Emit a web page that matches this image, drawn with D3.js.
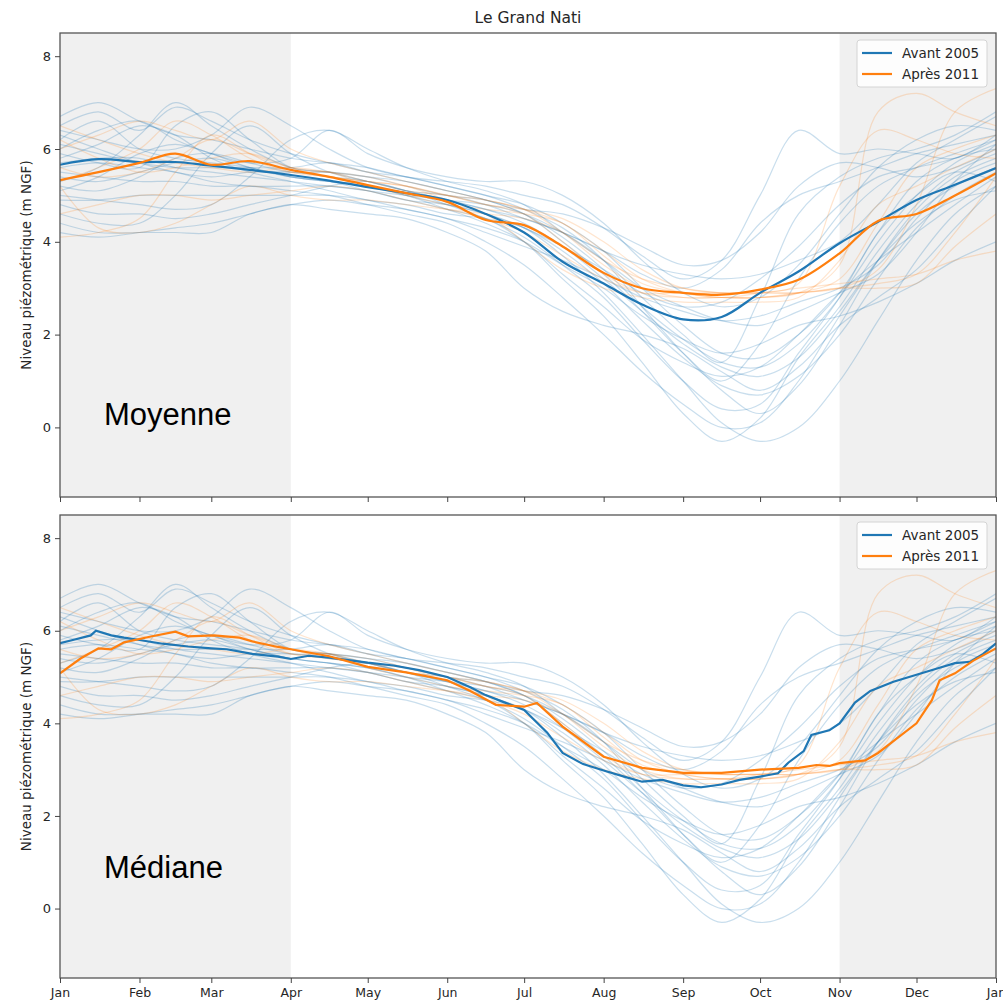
<!DOCTYPE html>
<html>
<head>
<meta charset="utf-8">
<script src="https://cdn.jsdelivr.net/npm/d3@7"></script>
<style>
  body { margin: 0; background: #fff; }
  text { font-family: "DejaVu Sans", sans-serif; fill: #262626; }
</style>
</head>
<body>
<div id="chart"></div>
<script>
// day of year of each sample (1st and mid of each month)
var sampleDays = [0,15,31,45,59,74,90,105,120,135,151,166,181,196,212,227,243,258,273,288,304,319,334,349,365];

var monthDays = [0,31,59,90,120,151,181,212,243,273,304,334,365];
var monthLabels = ['Jan','Feb','Mar','Apr','May','Jun','Jul','Aug','Sep','Oct','Nov','Dec','Jan'];
var yTicks = [0,2,4,6,8];

// individual years, before 2005
var yearsBefore = [
  [6.2,6.6,6.0,5.8,5.7,5.6,5.4,5.3,5.1,4.9,4.7,4.5,4.0,3.2,2.4,1.4,0.3,-0.3,0.2,1.5,2.6,3.8,4.8,5.5,5.9],
  [5.9,5.7,5.6,6.5,6.8,6.2,5.6,5.5,5.4,5.3,5.1,4.9,4.6,4.0,3.3,2.5,1.6,1.0,1.8,3.2,4.4,5.2,5.6,5.9,6.2],
  [4.4,4.2,4.2,4.2,4.2,4.6,4.8,4.9,4.8,4.7,4.5,4.3,4.0,3.5,3.0,2.4,1.9,1.6,1.8,2.2,2.4,2.7,3.1,3.6,4.0],
  [6.7,7.0,6.6,6.3,6.2,6.0,5.8,5.7,5.6,5.4,5.3,5.2,5.0,4.8,4.3,3.7,3.2,3.6,5.0,6.4,5.9,6.0,5.9,5.8,6.3],
  [5.0,4.9,4.8,4.7,4.8,5.4,6.2,6.4,6.0,5.6,5.3,5.1,4.8,4.2,3.6,3.0,2.6,2.3,2.2,2.5,2.9,3.3,4.2,5.3,6.1],
  [4.6,4.4,4.4,5.0,5.9,6.5,5.9,5.5,5.3,5.1,4.8,4.5,4.1,3.5,2.8,1.9,1.0,0.4,0.5,1.6,2.8,4.2,5.0,5.5,5.3],
  [5.3,5.6,6.3,7.0,6.5,6.0,5.6,5.5,5.3,5.1,5.0,4.8,4.5,4.2,3.8,3.5,3.3,3.2,3.3,3.6,4.0,4.8,5.7,6.2,6.7],
  [5.5,5.4,5.3,5.3,5.2,5.2,5.1,5.0,4.8,4.6,4.4,4.0,3.5,2.8,2.0,1.2,0.5,0.0,0.1,1.0,2.4,3.6,4.6,5.2,5.6],
  [6.0,6.4,6.6,6.2,5.9,5.7,5.8,6.4,5.9,5.6,5.4,5.3,5.3,5.0,4.4,3.6,2.9,2.6,2.8,3.5,4.6,5.6,6.2,6.5,6.4],
  [4.9,4.9,5.0,5.0,5.0,5.0,5.0,5.0,4.9,4.7,4.5,4.2,3.9,3.6,3.2,2.8,2.5,2.3,2.4,2.7,3.0,3.5,4.5,5.3,5.7],
  [6.4,6.2,6.0,6.0,6.3,6.9,6.5,6.0,5.6,5.4,5.2,5.0,4.8,4.4,3.8,3.0,2.2,1.6,1.5,2.0,2.9,4.2,5.3,5.8,6.0],
  [5.7,5.8,5.8,5.6,5.5,5.4,5.3,5.2,5.1,5.0,4.9,4.8,4.6,4.2,3.6,2.8,2.0,1.4,2.8,4.6,5.4,5.8,6.0,6.3,6.8],
  [4.2,4.1,4.2,4.3,4.4,4.6,4.8,4.7,4.6,4.5,4.2,3.8,3.0,2.5,2.2,2.0,1.7,1.2,0.8,1.3,2.2,2.8,3.4,4.3,5.2],
  [6.5,6.8,6.4,6.9,6.6,6.2,5.9,5.7,5.5,5.4,5.2,5.0,4.7,4.3,3.6,2.6,1.6,0.8,0.3,0.9,2.2,3.6,4.7,5.4,5.8],
  [5.2,5.1,5.4,5.8,5.9,5.7,5.5,5.5,5.4,5.2,5.0,4.9,4.7,4.6,4.3,3.9,3.5,3.6,4.2,5.2,5.7,5.6,5.4,5.6,6.0],
  [5.8,6.1,6.5,6.3,5.8,5.5,5.3,5.1,4.9,4.8,4.6,4.5,4.3,3.8,3.1,2.3,1.5,0.9,0.7,1.1,2.0,3.2,4.3,5.0,5.5],
  [4.8,4.6,4.6,4.5,4.6,4.8,5.0,5.2,5.3,5.1,4.9,4.7,4.4,3.9,3.2,2.5,1.8,1.3,1.1,1.5,2.5,3.6,4.4,4.9,5.1],
  [6.1,5.9,5.7,5.6,5.6,5.6,5.6,5.7,5.5,5.3,5.1,4.9,4.6,4.1,3.4,2.6,1.9,1.4,1.3,1.8,2.8,4.0,5.0,5.7,6.1],
  [5.6,5.7,5.6,5.5,5.3,5.2,5.2,5.2,5.1,4.9,4.8,4.6,4.3,3.7,2.9,2.0,1.0,0.1,-0.3,0.0,1.0,2.3,3.6,4.6,5.2],
  [6.3,6.0,5.7,5.5,5.4,5.5,5.5,5.4,5.3,5.1,4.9,4.7,4.5,4.2,3.8,3.3,3.0,3.4,4.4,5.0,5.3,5.6,5.9,6.1,6.3],
  [5.4,5.3,5.5,5.7,5.8,5.6,5.4,5.3,5.2,5.0,4.7,4.4,4.0,3.3,2.6,1.9,1.4,1.1,1.3,2.0,2.9,3.6,4.2,4.8,5.4],
  [5.1,5.4,5.9,6.1,5.9,5.6,5.4,5.3,5.2,5.0,4.8,4.6,4.3,3.9,3.4,2.9,2.6,2.7,3.2,3.9,4.8,5.4,5.6,5.8,6.2]
];

// individual years, after 2011
var yearsAfter = [
  [5.2,4.3,4.2,4.4,4.8,5.2,5.0,4.9,4.9,4.8,4.7,4.6,4.5,4.2,3.6,3.2,3.0,2.9,2.9,2.9,3.0,3.0,3.1,3.9,4.6],
  [6.0,6.3,6.6,6.4,6.2,6.6,6.0,5.7,5.5,5.3,5.1,4.9,4.7,4.2,3.5,3.0,2.8,2.8,2.8,2.9,3.5,6.8,7.2,6.8,6.5],
  [4.1,4.2,4.5,5.5,6.3,5.9,5.5,5.4,5.3,5.2,5.0,4.8,4.7,4.5,4.0,3.4,3.0,2.9,2.9,2.9,3.0,3.1,3.3,4.2,5.4],
  [6.5,6.2,5.9,5.7,5.6,5.5,5.6,5.5,5.3,5.1,5.0,4.8,4.6,4.0,3.3,2.9,2.8,2.8,2.8,2.9,3.0,3.4,4.8,6.8,7.3],
  [5.6,5.4,5.5,5.8,6.2,5.9,5.6,5.5,5.4,5.2,4.9,4.6,4.0,3.4,3.0,2.8,2.7,2.7,2.7,2.8,3.6,4.8,5.2,5.6,6.0],
  [5.3,5.6,6.0,6.6,6.3,5.8,5.5,5.5,5.2,5.0,4.8,4.7,4.6,4.4,3.7,3.1,2.9,2.8,2.9,3.1,5.2,6.4,6.2,5.9,5.8],
  [4.6,4.8,5.0,5.0,4.9,5.0,5.1,5.2,5.1,4.9,4.7,4.5,4.2,3.7,3.2,2.9,2.9,2.9,2.9,3.0,3.1,3.2,3.3,3.6,3.8],
  [6.2,5.8,5.5,5.6,5.8,5.9,5.6,5.4,5.3,5.2,5.0,4.9,4.7,4.4,3.8,3.2,2.9,2.8,2.8,2.9,3.2,4.4,5.6,6.0,6.3]
];

// mean (top panel), at sampleDays
var meanBefore = [5.66,5.78,5.72,5.72,5.64,5.55,5.44,5.32,5.18,5.05,4.9,4.6,4.2,3.57,3.1,2.65,2.33,2.38,2.9,3.36,3.97,4.43,4.9,5.23,5.59];
var meanAfter  = [5.33,5.5,5.7,5.9,5.66,5.74,5.55,5.4,5.22,5.05,4.86,4.47,4.36,3.9,3.33,3.0,2.9,2.86,2.97,3.18,3.75,4.45,4.6,5.0,5.48];

// median (bottom panel)
var medBeforeDays = [0,5,12,14,20,25,31,40,50,59,65,75,85,90,97,105,120,130,140,151,160,166,172,181,190,196,204,212,220,227,235,243,250,258,265,273,280,284,290,293,300,304,310,316,325,334,343,349,355,360,365];
var medBefore     = [5.73,5.8,5.9,6.0,5.9,5.85,5.8,5.72,5.66,5.62,5.6,5.5,5.44,5.39,5.46,5.42,5.31,5.25,5.15,5.0,4.78,4.61,4.48,4.29,3.8,3.36,3.12,2.98,2.85,2.74,2.78,2.66,2.62,2.68,2.78,2.85,2.92,3.15,3.4,3.75,3.85,4.0,4.45,4.7,4.9,5.05,5.2,5.3,5.33,5.5,5.73];
var medAfterDays  = [0,8,15,20,25,35,45,50,60,70,75,85,90,105,120,135,151,160,170,181,186,196,212,227,243,258,273,288,295,300,304,314,319,327,334,340,343,349,356,365];
var medAfter      = [5.08,5.4,5.62,5.6,5.75,5.87,5.98,5.88,5.9,5.85,5.77,5.65,5.6,5.45,5.22,5.1,4.93,4.7,4.4,4.36,4.44,3.93,3.28,3.04,2.93,2.93,3.0,3.04,3.1,3.08,3.14,3.2,3.36,3.7,4.0,4.5,4.93,5.08,5.35,5.62];

var blue = '#1f77b4', orange = '#ff7f0e';

var svg = d3.select('#chart').append('svg')
    .attr('width', 1003)
    .attr('height', 1005);

var margin = {left: 60, right: 7};
var x = d3.scaleLinear().domain([0, 365]).range([margin.left, 1003 - margin.right]);

svg.append('text')
    .attr('x', 528)
    .attr('y', 23)
    .attr('text-anchor', 'middle')
    .style('font-size', '15.5px')
    .text('Le Grand Nati');

function zip(days, vals) {
    return vals.map(function(v, i) { return [days[i], v]; });
}

function drawPanel(top, bottom, id, boldBefore, boldAfter, smooth, label, showMonths)
{
    var y = d3.scaleLinear().domain([-1.5, 8.5]).range([bottom, top]);
    var g = svg.append('g');

    g.append('clipPath').attr('id', 'clip' + id)
      .append('rect')
        .attr('x', x(0)).attr('y', top)
        .attr('width', x(365) - x(0)).attr('height', bottom - top);

    // grey winter spans
    g.append('rect')
        .attr('x', x(0)).attr('y', top)
        .attr('width', x(90) - x(0)).attr('height', bottom - top)
        .style('fill', '#f0f0f0');
    g.append('rect')
        .attr('x', x(304)).attr('y', top)
        .attr('width', x(365) - x(304)).attr('height', bottom - top)
        .style('fill', '#f0f0f0');

    var thin = d3.line()
        .x(function(d) { return x(d[0]); })
        .y(function(d) { return y(d[1]); })
        .curve(d3.curveCatmullRom.alpha(0.5));

    var lines = g.append('g').attr('clip-path', 'url(#clip' + id + ')');

    yearsBefore.forEach(function(v) {
        lines.append('path')
            .attr('d', thin(zip(sampleDays, v)))
            .style('fill', 'none')
            .style('stroke', blue)
            .style('stroke-opacity', 0.24)
            .style('stroke-width', 1.2);
    });
    yearsAfter.forEach(function(v) {
        lines.append('path')
            .attr('d', thin(zip(sampleDays, v)))
            .style('fill', 'none')
            .style('stroke', orange)
            .style('stroke-opacity', 0.2)
            .style('stroke-width', 1.2);
    });

    var bold = d3.line()
        .x(function(d) { return x(d[0]); })
        .y(function(d) { return y(d[1]); })
        .curve(smooth ? d3.curveCatmullRom.alpha(0.5) : d3.curveLinear);

    lines.append('path')
        .attr('d', bold(boldBefore))
        .style('fill', 'none')
        .style('stroke', blue)
        .style('stroke-width', 2.2);
    lines.append('path')
        .attr('d', bold(boldAfter))
        .style('fill', 'none')
        .style('stroke', orange)
        .style('stroke-width', 2.2);

    // frame
    g.append('rect')
        .attr('x', x(0)).attr('y', top)
        .attr('width', x(365) - x(0)).attr('height', bottom - top)
        .style('fill', 'none')
        .style('stroke', '#555')
        .style('stroke-width', 1.3);

    var yAxis = g.append('g')
        .attr('transform', 'translate(' + x(0) + ',0)')
        .call(d3.axisLeft(y).tickValues(yTicks).tickSize(5).tickPadding(4).tickFormat(d3.format('d')));
    yAxis.select('.domain').remove();
    yAxis.selectAll('line').style('stroke', '#444');
    yAxis.selectAll('text').style('font-size', '13px').style('fill', '#262626');

    var xAxis = g.append('g')
        .attr('transform', 'translate(0,' + bottom + ')')
        .call(d3.axisBottom(x).tickValues(monthDays).tickSize(5).tickPadding(5)
              .tickFormat(function(d, i) { return showMonths ? monthLabels[i] : ''; }));
    xAxis.select('.domain').remove();
    xAxis.selectAll('line').style('stroke', '#444');
    xAxis.selectAll('text').style('font-size', '12.5px').style('fill', '#262626');

    g.append('text')
        .attr('transform', 'translate(31,' + (top + bottom) / 2 + ') rotate(-90)')
        .attr('text-anchor', 'middle')
        .style('font-size', '13.5px')
        .text('Niveau piézométrique (m NGF)');

    g.append('text')
        .attr('x', 104)
        .attr('y', y(label.at))
        .style('font-family', '"Liberation Sans", Arial, sans-serif')
        .style('font-size', '31px')
        .style('fill', '#000')
        .text(label.text);

    // legend
    var lx = 857, ly = top + 7;
    g.append('rect')
        .attr('x', lx).attr('y', ly)
        .attr('width', 130).attr('height', 47)
        .attr('rx', 3)
        .style('fill', 'rgba(255,255,255,0.85)')
        .style('stroke', '#d4d4d4');
    [['Avant 2005', blue], ['Après 2011', orange]].forEach(function(e, i) {
        g.append('line')
            .attr('x1', lx + 5).attr('x2', lx + 35)
            .attr('y1', ly + 13 + i * 21).attr('y2', ly + 13 + i * 21)
            .style('stroke', e[1])
            .style('stroke-width', 2.2);
        g.append('text')
            .attr('x', lx + 45)
            .attr('y', ly + 13 + i * 21)
            .attr('dy', '0.35em')
            .style('font-size', '13.5px')
            .text(e[0]);
    });
}

drawPanel(33, 497, 'top', zip(sampleDays, meanBefore), zip(sampleDays, meanAfter), true,
          {text: 'Moyenne', at: 0.05}, false);
drawPanel(515, 978, 'bot', zip(medBeforeDays, medBefore), zip(medAfterDays, medAfter), false,
          {text: 'Médiane', at: 0.67}, true);
</script>
</body>
</html>
